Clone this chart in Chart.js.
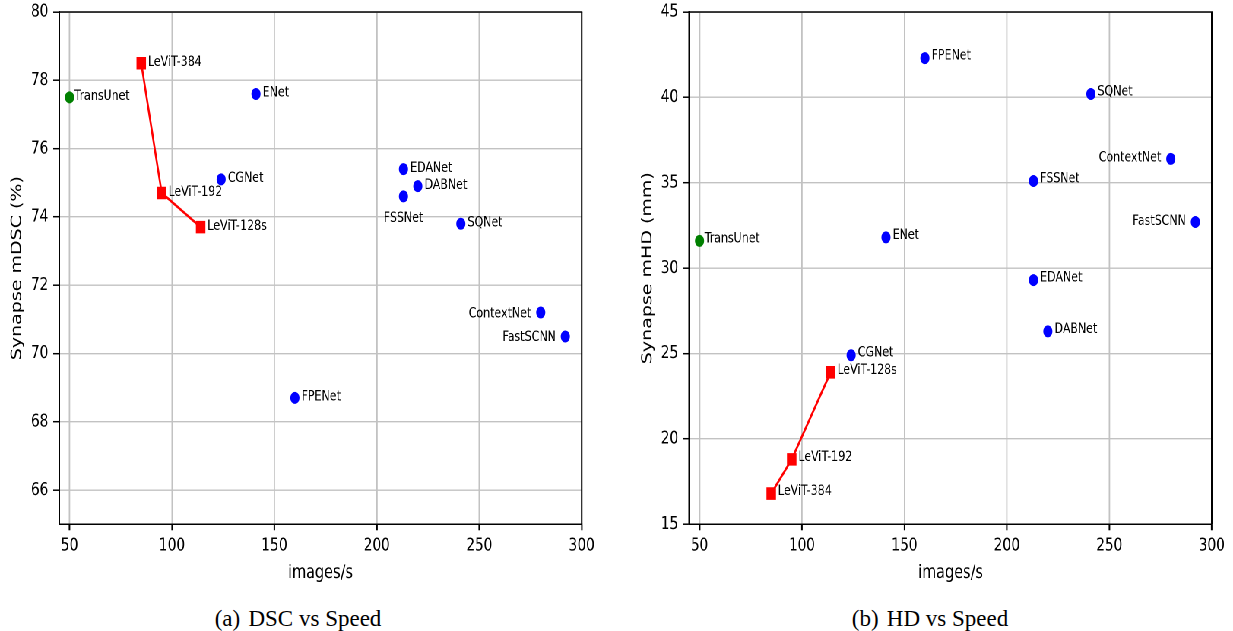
<!DOCTYPE html>
<html><head><meta charset="utf-8">
<script src="https://cdn.jsdelivr.net/npm/chart.js@4.4.1/dist/chart.umd.min.js"></script>
<style>
html,body{margin:0;padding:0;background:#fff;overflow:hidden;width:1233px;height:631px;}
#fig{position:absolute;left:0;top:0;width:1622px;height:600px;transform:scaleX(0.7602);transform-origin:0 0;}
.panel{position:absolute;top:0;width:811px;height:600px;}
.cap{position:absolute;top:607px;font-family:'Liberation Serif','Times New Roman',serif;font-size:23px;line-height:23px;white-space:nowrap;transform:translateX(-50%);color:#000;}
</style></head><body>
<div id="fig">
 <div class="panel" style="left:0"><canvas id="c1" width="811" height="600"></canvas></div>
 <div class="panel" style="left:811px"><canvas id="c2" width="811" height="600"></canvas></div>
</div>
<div class="cap" style="left:298px">(a) <span style="display:inline-block;width:2.5px"></span>DSC vs Speed</div>
<div class="cap" style="left:930px">(b) <span style="display:inline-block;width:2.5px"></span>HD vs Speed</div>
<script>
// ---- data ----
const models = ['ENet','CGNet','EDANet','DABNet','FSSNet','SQNet','ContextNet','FastSCNN','FPENet'];
const modelSpeed = [141, 124, 213, 220, 213, 241, 280, 292, 160];
const modelDsc = [77.6, 75.1, 75.4, 74.9, 74.6, 73.8, 71.2, 70.5, 68.7];
const modelHd = [31.8, 24.9, 29.3, 26.3, 35.1, 40.2, 36.4, 32.7, 42.3];
const transModels = ['TransUnet'];
const transSpeed = [50];
const transDsc = [77.5];
const transHd = [31.6];
const levitModels = ['LeViT-384','LeViT-192','LeViT-128s'];
const levitSpeed = [85, 95, 114];
const levitDsc = [78.5, 74.7, 73.7];
const levitHd = [16.8, 18.8, 23.9];
const xTicksInfo = {min: 45, max: 300, step: 50};
const dscTicksInfo = {min: 65, max: 80, step: 2};
const hdTicksInfo = {min: 15, max: 45, step: 5};

const FONT = "'DejaVu Sans', 'Noto Sans', sans-serif";
const pts = (xs, ys) => xs.map((x, i) => ({x: x, y: ys[i]}));

const framePlugin = {
  id: 'frame',
  afterDraw(chart) {
    const {ctx, chartArea: a} = chart;
    ctx.save();
    ctx.strokeStyle = '#000';
    ctx.lineWidth = 1.5;
    ctx.beginPath(); ctx.moveTo(a.left - 1, a.top); ctx.lineTo(a.right + 1, a.top); ctx.stroke();
    ctx.lineWidth = 2;
    ctx.beginPath(); ctx.moveTo(a.right, a.top); ctx.lineTo(a.right, a.bottom); ctx.stroke();
    ctx.restore();
  }
};

const labelPlugin = {
  id: 'pointLabels',
  afterDatasetsDraw(chart, args, opts) {
    const {ctx} = chart;
    ctx.save();
    ctx.font = '14.5px ' + FONT;
    ctx.fillStyle = '#000';
    ctx.textBaseline = 'middle';
    chart.data.datasets.forEach((ds, di) => {
      const meta = chart.getDatasetMeta(di);
      meta.data.forEach((el, j) => {
        const name = ds.names[j];
        const p = Object.assign({}, opts.def, opts.special[name] || {});
        ctx.textAlign = p.align;
        ctx.fillText(name, el.x + p.dx, el.y + p.dy);
      });
    });
    ctx.restore();
  }
};

function makeChart(id, yVals, transY, levitY, yInfo, yTitle, geo, place) {
  new Chart(document.getElementById(id), {
    type: 'scatter',
    data: {
      datasets: [
        {names: models, data: pts(modelSpeed, yVals), backgroundColor: '#0000ff', borderColor: '#0000ff',
         pointRadius: 6, pointHoverRadius: 6, pointBorderWidth: 0},
        {names: transModels, data: pts(transSpeed, transY), backgroundColor: '#008000', borderColor: '#008000',
         pointRadius: 6, pointHoverRadius: 6, pointBorderWidth: 0},
        {names: levitModels, data: pts(levitSpeed, levitY), showLine: true, borderColor: '#ff0000', borderWidth: 2.6,
         backgroundColor: '#ff0000', pointStyle: 'rect', pointRadius: 8.85, pointHoverRadius: 8.85, pointBorderWidth: 0}
      ]
    },
    options: {
      responsive: false,
      devicePixelRatio: 2,
      animation: false,
      layout: {padding: {left: 0, right: geo.padRight, top: 12, bottom: 0}},
      plugins: {
        legend: {display: false},
        tooltip: {enabled: false},
        pointLabels: place
      },
      scales: {
        x: {
          type: 'linear', min: xTicksInfo.min, max: xTicksInfo.max,
          afterFit(s) { s.height = 75.7; },
          ticks: {stepSize: xTicksInfo.step, includeBounds: false, color: '#000', font: {family: FONT, size: 18}, padding: 4.7, maxRotation: 0},
          grid: {color: '#c2c2c2', lineWidth: 1.8, tickColor: '#000', tickWidth: 2, tickLength: 6},
          border: {color: '#000', width: 1.5},
          title: {display: true, text: 'images/s', color: '#000', font: {family: FONT, size: 19}, padding: {top: 0, bottom: 15.5}}
        },
        y: {
          type: 'linear', min: yInfo.min, max: yInfo.max,
          afterFit(s) { s.width = geo.yWidth; s.paddingTop = 0; s.paddingBottom = 0; },
          ticks: {stepSize: yInfo.step, includeBounds: false, color: '#000', font: {family: FONT, size: 18}, padding: 6.4},
          grid: {color: '#c2c2c2', lineWidth: 1.4, tickColor: '#000', tickWidth: 1.5, tickLength: 8},
          border: {color: '#000', width: 2},
          title: {display: true, text: yTitle, color: '#000', font: {family: FONT, size: 19}, padding: {top: geo.titlePad, bottom: 0}}
        }
      }
    },
    plugins: [framePlugin, labelPlugin]
  });
}

makeChart('c1', modelDsc, transDsc, levitDsc, dscTicksInfo, 'Synapse mDSC (%)',
  {padRight: 45.8, yWidth: 78, titlePad: 11},
  {def: {align: 'left', dx: 8.8, dy: -1},
   special: {FSSNet: {align: 'center', dx: 0, dy: 22},
             ContextNet: {align: 'right', dx: -12.5, dy: 1},
             FastSCNN: {align: 'right', dx: -12.5, dy: 1},
             TransUnet: {dx: 6.4}}});

makeChart('c2', modelHd, transHd, levitHd, hdTicksInfo, 'Synapse mHD (mm)',
  {padRight: 28, yWidth: 95.7, titlePad: 29.7},
  {def: {align: 'left', dx: 8.8, dy: -2.3},
   special: {ContextNet: {align: 'right', dx: -12.5, dy: -1},
             FastSCNN: {align: 'right', dx: -12.5, dy: -1},
             TransUnet: {dx: 6.6}}});
</script>
</body></html>
